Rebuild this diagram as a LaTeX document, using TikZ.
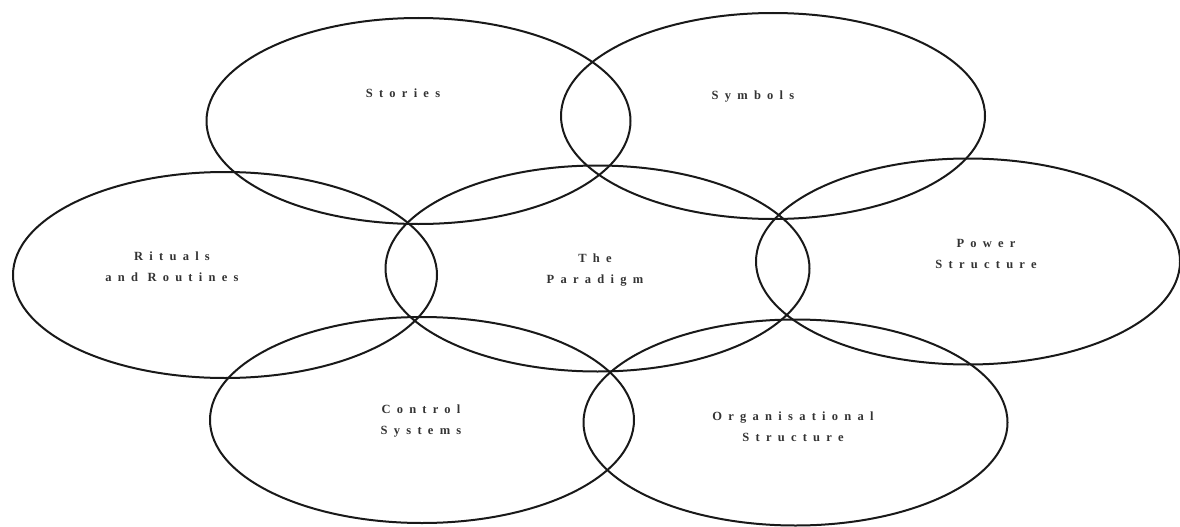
\documentclass[tikz,border=0pt]{standalone}
\usepackage{fontspec}
\usetikzlibrary{shapes.geometric}
\newfontfamily\spacedfont[LetterSpace=50]{Liberation Serif}
\begin{document}
\begin{tikzpicture}[x=1pt,y=-1pt,
  web/.style={draw=black!90,line width=2pt,ellipse,inner sep=0pt,
    minimum width=424pt,minimum height=206pt},
  lbl/.style={font=\spacedfont\bfseries\fontsize{12.5}{21}\selectfont,text=black!80,align=center,inner sep=0pt}]
\useasboundingbox (0,0) rectangle (1180,527);
\node[web] (stories) at (418.5,121) {};
\node[web] (symbols) at (773,116) {};
\node[web] (rituals) at (225,275) {};
\node[web] (paradigm) at (597.5,268.5) {};
\node[web] (power) at (968,261.5) {};
\node[web] (control) at (422,420) {};
\node[web] (org) at (795.5,422.5) {};
\node[lbl] (tstories) at (403,93) {Stories};
\node[lbl] (tsymbols) at (753,97) {Symbols};
\node[lbl] (trituals) at (172,267) {Rituals\\and Routines};
\node[lbl] (tparadigm) at (595,270) {The\\Paradigm};
\node[lbl] (tpower) at (986,254) {Power\\Structure};
\node[lbl] (tcontrol) at (421,421) {Control\\Systems};
\node[lbl] (torg) at (793,427) {Organisational\\Structure};
\end{tikzpicture}
\end{document}
